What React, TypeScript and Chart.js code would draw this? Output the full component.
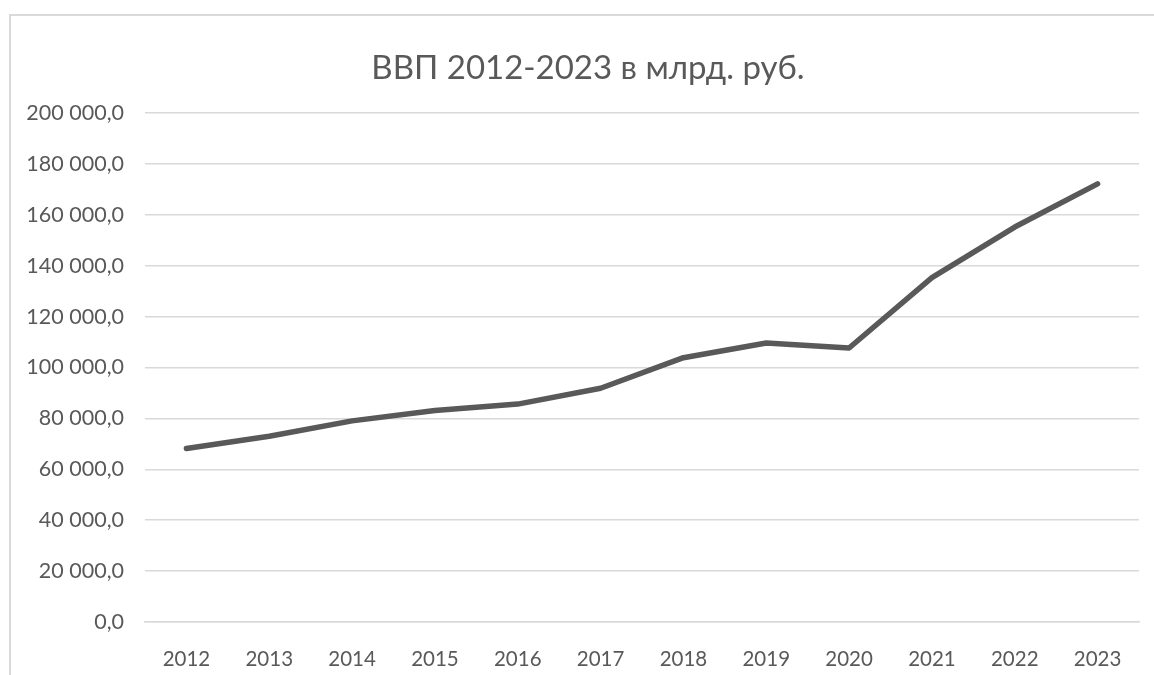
import React, { useEffect, useRef } from "react";
import { Chart, registerables } from "chart.js";

Chart.register(...registerables);

const years: string[] = ["2012", "2013", "2014", "2015", "2016", "2017", "2018", "2019", "2020", "2021", "2022", "2023"];
const gdp: number[] = [68164, 72986, 79030, 83087, 85616, 91843, 103862, 109608, 107658, 135295, 155188, 172148];
const titleText = "ВВП 2012-2023 в млрд. руб.";
const yMin = 0;
const yMax = 200000;
const yStep = 20000;

const fmt = (v: number): string => {
  const s = Math.round(v).toString().replace(/\B(?=(\d{3})+(?!\d))/g, " ");
  return s + ",0";
};

const FONT = "Lato, 'Open Sans', sans-serif";
const TEXT = "#595959";
const GRID = "#d9d9d9";

const borderPlugin = {
  id: "outerBorder",
  beforeDraw(chart: any) {
    const ctx = chart.ctx;
    ctx.save();
    ctx.fillStyle = "#ffffff";
    ctx.fillRect(0, 0, chart.width, chart.height);
    ctx.strokeStyle = GRID;
    ctx.lineWidth = 2;
    ctx.strokeRect(10, 15, 3000, 3000);
    ctx.restore();
  },
};

const titlePlugin = {
  id: "chartTitle",
  afterDraw(chart: any) {
    const ctx = chart.ctx;
    ctx.save();
    ctx.fillStyle = TEXT;
    ctx.font = "normal 33px " + FONT;
    ctx.textAlign = "center";
    ctx.textBaseline = "middle";
    ctx.fillText(titleText, 588, 68);
    ctx.restore();
  },
};

export default function App() {
  const ref = useRef<HTMLCanvasElement | null>(null);
  useEffect(() => {
    if (!ref.current) return;
    const chart = new Chart(ref.current, {
      type: "line",
      data: {
        labels: years,
        datasets: [
          {
            label: titleText,
            data: gdp,
            borderColor: "#595959",
            borderWidth: 5.5,
            pointRadius: 0,
            tension: 0,
            borderCapStyle: "round",
            borderJoinStyle: "round",
            fill: false,
          },
        ],
      },
      options: {
        animation: false,
        responsive: false,
        maintainAspectRatio: false,
        layout: { padding: { left: 0, right: 15, top: 113, bottom: 0 } },
        plugins: {
          legend: { display: false },
          tooltip: { enabled: false },
          title: { display: false },
        },
        scales: {
          x: {
            offset: true,
            grid: { display: false, drawTicks: false },
            border: { display: true, color: GRID, width: 1.5 },
            ticks: {
              color: TEXT,
              font: { family: FONT, size: 20.5 },
              padding: 25,
              maxRotation: 0,
            },
            afterFit(scale: any) {
              scale.height = 53;
            },
          },
          y: {
            min: yMin,
            max: yMax,
            grid: { color: GRID, lineWidth: 1.5, drawTicks: false },
            border: { display: false },
            ticks: {
              stepSize: yStep,
              color: TEXT,
              font: { family: FONT, size: 21.5 },
              padding: 21,
              callback: (v: any) => fmt(Number(v)),
            },
            afterFit(scale: any) {
              scale.width = 145;
            },
          },
        },
      },
      plugins: [borderPlugin, titlePlugin],
    } as any);
    return () => chart.destroy();
  }, []);
  return (
    <div style={{ position: "absolute", left: 0, top: 0, width: 1154, height: 675 }}>
      <canvas ref={ref} width={1154} height={675} style={{ width: 1154, height: 675 }} />
    </div>
  );
}
